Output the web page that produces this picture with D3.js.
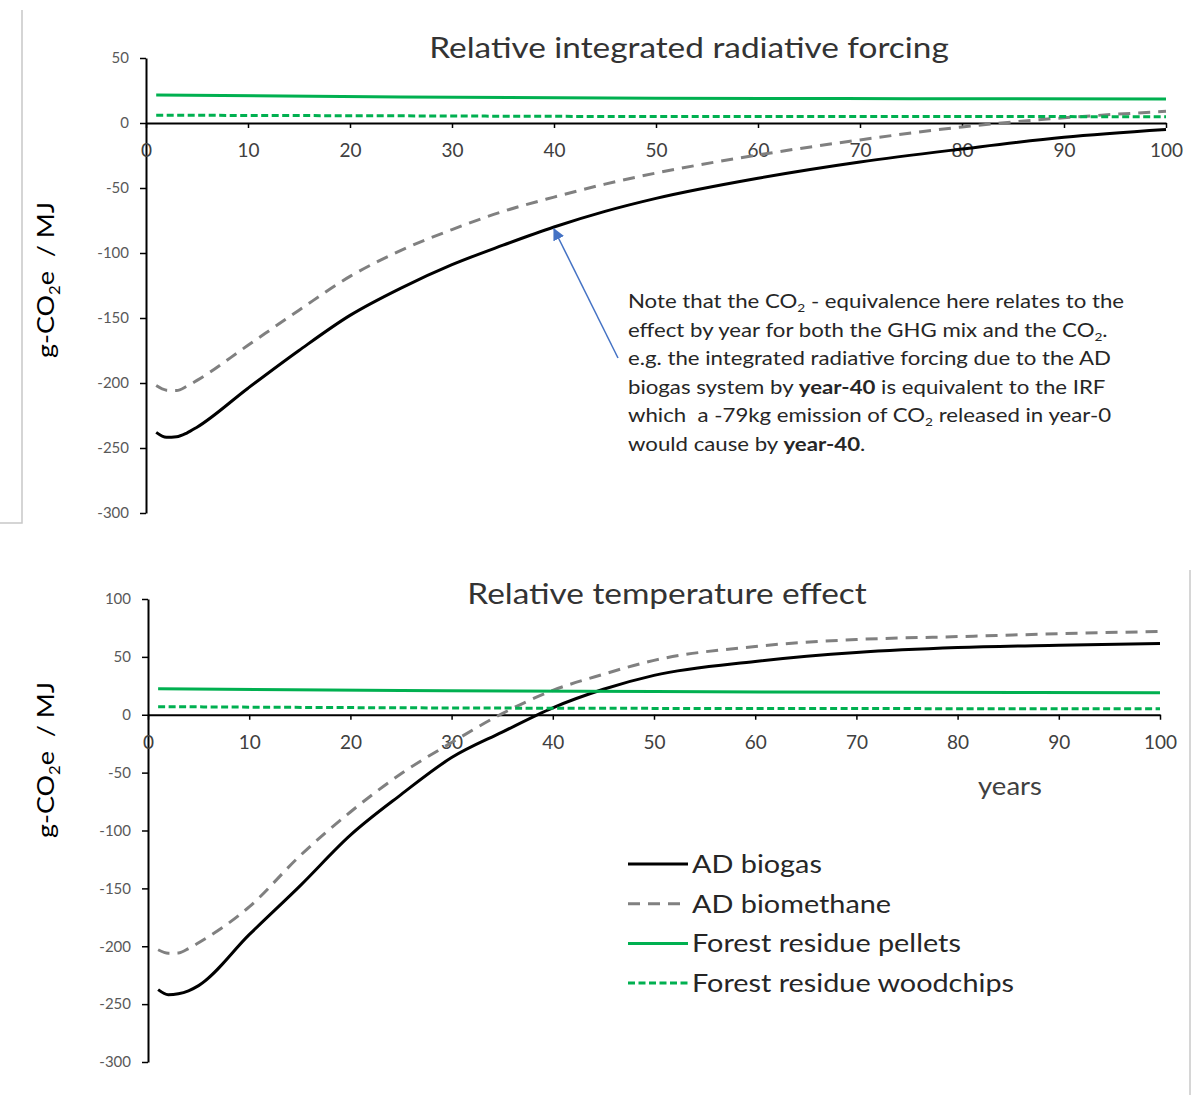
<!DOCTYPE html>
<html>
<head>
<meta charset="utf-8">
<script src="https://cdn.jsdelivr.net/npm/d3@7"></script>
<style>
  body { margin: 0; background: #fff; }
  svg { display: block; font-family: Lato, "Open Sans", sans-serif; }
  text { white-space: pre; }
</style>
</head>
<body>
<svg id="chart" width="1192" height="1095"></svg>
<script>
const years = [1, 2, 3, 4, 5, 10, 15, 20, 25, 30, 35, 40, 45, 50, 60, 70, 80, 90, 100];
const greenYears = [1, 25, 50, 75, 100];

// relative integrated radiative forcing (g-CO2e / MJ)
const irfBiogas     = [-238, -241.8, -241.4, -238.5, -234, -204, -175, -148, -127, -109, -94, -80, -68, -58, -42.5, -30, -20, -11, -5];
const irfBiomethane = [-202, -205.5, -205.8, -202.5, -198, -171, -144, -118, -98, -82, -68, -57, -47, -38.5, -24.6, -13, -3, 4, 9];
const irfPellets    = [21.5, 20, 19, 18.7, 18.5];
const irfWoodchips  = [6, 5.5, 5, 5, 4.8];

// relative temperature effect (g-CO2e / MJ)
const tempBiogas     = [-237.5, -241.8, -241, -238.5, -234, -190, -148, -104, -69, -37, -15, 6, 22, 34, 46, 53.7, 58, 60, 61.5];
const tempBiomethane = [-203, -206, -205.8, -202, -197, -166, -122, -84, -51, -24, 1, 21, 35, 47, 59, 65, 67.5, 70, 72];
const tempPellets    = [22.5, 21, 20, 19.5, 19];
const tempWoodchips  = [7, 6, 5.5, 5.3, 5.2];

const xTicks = d3.range(0, 101, 10);
const irfTicks = [50, 0, -50, -100, -150, -200, -250, -300];
const tempTicks = [100, 50, 0, -50, -100, -150, -200, -250, -300];

const seriesNames = ["AD biogas", "AD biomethane", "Forest residue pellets", "Forest residue woodchips"];
const seriesStyles = [
    { color: "#000000", dash: null },
    { color: "#808080", dash: "12,8" },
    { color: "#00b050", dash: null },
    { color: "#00b050", dash: "7,3.5" }
];

const noteLines = [
    [["Note that the CO"], ["2", "sub"], [" - equivalence here relates to the"]],
    [["effect by year for both the GHG mix and the CO"], ["2", "sub"], ["."]],
    [["e.g. the integrated radiative forcing due to the AD"]],
    [["biogas system by "], ["year-40", "bold"], [" is equivalent to the IRF"]],
    [["which  a -79kg emission of CO"], ["2", "sub"], [" released in year-0"]],
    [["would cause by "], ["year-40", "bold"], ["."]]
];

const svg = d3.select("#chart");

// the original text is wider than Lato, so widen it a little
function widen(sel, k) {
    sel.each(function() {
        const w = this.getComputedTextLength();
        d3.select(this).attr("textLength", w * k).attr("lengthAdjust", "spacingAndGlyphs");
    });
}

// frame edges left from the pasted pictures
svg.append("path").attr("d", "M22,10V523H0").attr("fill", "none").attr("stroke", "#c8c8c8").attr("stroke-width", 1.5);
svg.append("path").attr("d", "M1190,570V1095").attr("fill", "none").attr("stroke", "#c8c8c8").attr("stroke-width", 1.5);

function drawPanel(opt) {
    const x = d3.scaleLinear().domain([0, 100]).range(opt.xRange);
    const y = d3.scaleLinear().domain(opt.yDomain).range(opt.yRange);
    const g = svg.append("g");

    // y axis
    const ya = g.append("g")
        .attr("transform", `translate(${x(0)},0)`)
        .call(d3.axisLeft(y).tickValues(opt.yTicks).tickSize(6).tickSizeOuter(0).tickPadding(11)
            .tickFormat(d => String(d)));
    ya.select(".domain").attr("stroke", "#000").attr("stroke-width", 2);
    ya.selectAll(".tick line").attr("stroke", "#000").attr("stroke-width", 1.5);
    ya.selectAll(".tick text").attr("fill", "#595959").style("font-size", "15px").style("font-family", "Lato");

    // x axis through zero
    const xa = g.append("g")
        .attr("transform", `translate(0,${y(0)})`)
        .call(d3.axisBottom(x).tickValues(xTicks).tickSize(5).tickSizeOuter(0));
    xa.select(".domain").attr("stroke", "#000").attr("stroke-width", 2);
    xa.selectAll(".tick line").attr("stroke", "#000").attr("stroke-width", 1.5);
    xa.selectAll(".tick text").attr("fill", "#404040").attr("y", 21)
        .style("font-size", "19px").style("font-family", "Lato");

    // title
    g.append("text")
        .attr("x", opt.titleX).attr("y", opt.titleY)
        .attr("text-anchor", "middle")
        .attr("fill", "#333")
        .style("font-size", "29px")
        .text(opt.title)
        .call(widen, 1.15);

    // y label, stretched along its own direction
    const yl = g.append("text")
        .attr("transform", `translate(${opt.yLabelX},${opt.yLabelY}) rotate(-90) scale(1.12,1)`)
        .attr("text-anchor", "middle")
        .attr("fill", "#000")
        .style("font-size", "24px");
    yl.append("tspan").text("g-CO");
    yl.append("tspan").attr("dy", 6).style("font-size", "15px").text("2");
    yl.append("tspan").attr("dy", -6).text("e  / MJ");

    const line = d3.line()
        .x(d => x(d[0]))
        .y(d => y(d[1]))
        .curve(d3.curveMonotoneX);

    opt.series.forEach((s, i) => {
        const xs = s.length === years.length ? years : greenYears;
        g.append("path")
            .datum(s.map((v, j) => [xs[j], v]))
            .attr("fill", "none")
            .attr("stroke", seriesStyles[i].color)
            .attr("stroke-width", 3)
            .attr("stroke-dasharray", seriesStyles[i].dash)
            .attr("d", line);
    });

    return { x, y, g };
}

const topPanel = drawPanel({
    xRange: [146, 1166], yDomain: [-300, 50], yRange: [513, 58], yTicks: irfTicks,
    title: "Relative integrated radiative forcing", titleX: 689, titleY: 58,
    yLabelX: 54, yLabelY: 280,
    series: [irfBiogas, irfBiomethane, irfPellets, irfWoodchips]
});

const bottomPanel = drawPanel({
    xRange: [148, 1160], yDomain: [-300, 100], yRange: [1062, 599], yTicks: tempTicks,
    title: "Relative temperature effect", titleX: 667, titleY: 604,
    yLabelX: 54, yLabelY: 760,
    series: [tempBiogas, tempBiomethane, tempPellets, tempWoodchips]
});

// x axis title on the lower panel
svg.append("text")
    .attr("x", 1010).attr("y", 795)
    .attr("text-anchor", "middle")
    .attr("fill", "#404040")
    .style("font-size", "25px")
    .text("years")
    .call(widen, 1.1);

// note and arrow pointing at year 40 on the AD biogas IRF curve
svg.append("defs").append("marker")
    .attr("id", "arrow")
    .attr("viewBox", "0 0 10 10")
    .attr("refX", 9).attr("refY", 5)
    .attr("markerWidth", 8).attr("markerHeight", 8)
    .attr("orient", "auto")
    .append("path").attr("d", "M0,0L10,5L0,10Z").attr("fill", "#4472c4");

svg.append("line")
    .attr("x1", 618).attr("y1", 358)
    .attr("x2", topPanel.x(40)).attr("y2", topPanel.y(irfBiogas[years.indexOf(40)]) + 2)
    .attr("stroke", "#4472c4").attr("stroke-width", 1.5)
    .attr("marker-end", "url(#arrow)");

const note = svg.append("g")
    .attr("transform", "translate(628,0) scale(1.14,1)")
    .append("text")
    .attr("fill", "#262626")
    .style("font-size", "19.5px");
noteLines.forEach((parts, i) => {
    const row = note.append("tspan").attr("x", 0).attr("y", 308 + i * 28.6);
    let shifted = false;
    parts.forEach(p => {
        const t = row.append("tspan").text(p[0]);
        if (p[1] === "bold") t.style("font-weight", "bold");
        if (p[1] === "sub") {
            t.attr("dy", 4).style("font-size", "12px");
            shifted = true;
        } else if (shifted) {
            t.attr("dy", -4);
            shifted = false;
        }
    });
});

// legend
const legend = svg.append("g");
seriesNames.forEach((name, i) => {
    const ly = 864 + i * 39.7;
    legend.append("line")
        .attr("x1", 628).attr("x2", 688).attr("y1", ly).attr("y2", ly)
        .attr("stroke", seriesStyles[i].color)
        .attr("stroke-width", 3)
        .attr("stroke-dasharray", seriesStyles[i].dash);
    legend.append("text")
        .attr("x", 692).attr("y", ly + 9)
        .attr("fill", "#262626")
        .style("font-size", "25.5px")
        .text(name)
        .call(widen, 1.13);
});
</script>
</body>
</html>
